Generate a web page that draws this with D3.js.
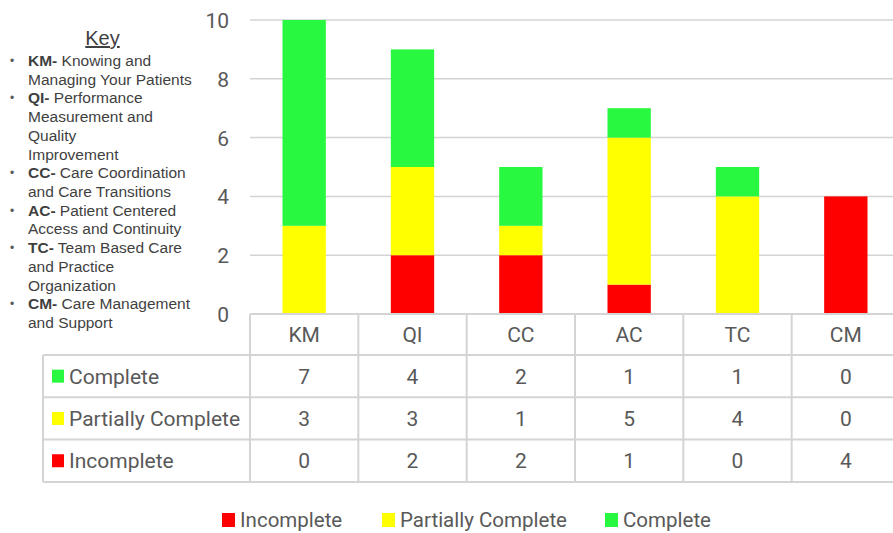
<!DOCTYPE html>
<html>
<head>
<meta charset="utf-8">
<script src="https://cdn.jsdelivr.net/npm/d3@7"></script>
<style>
  html, body { margin: 0; padding: 0; background: #fff; }
  svg { display: block; }
</style>
</head>
<body>
<svg id="chart" width="893" height="533"></svg>
<script>
// Domain codes along the x axis
const categories = ["KM", "QI", "CC", "AC", "TC", "CM"];
// Counts per status, one value per domain
const incomplete = [0, 2, 2, 1, 0, 4];
const partiallyComplete = [3, 3, 1, 5, 4, 0];
const complete = [7, 4, 2, 1, 1, 0];
const yTicks = [0, 2, 4, 6, 8, 10];

// Key entries: bold code and the description split into lines
const keyItems = [
  { code: "KM-", lines: ["Knowing and", "Managing Your Patients"] },
  { code: "QI-", lines: ["Performance", "Measurement and", "Quality", "Improvement"] },
  { code: "CC-", lines: ["Care Coordination", "and Care Transitions"] },
  { code: "AC-", lines: ["Patient Centered", "Access and Continuity"] },
  { code: "TC-", lines: ["Team Based Care", "and Practice", "Organization"] },
  { code: "CM-", lines: ["Care Management", "and Support"] }
];

const series = [
  { key: "Incomplete", values: incomplete, color: "#ff0000" },
  { key: "Partially Complete", values: partiallyComplete, color: "#ffff00" },
  { key: "Complete", values: complete, color: "#29f840" }
];

const svg = d3.select("#chart");
const textColor = "#595959";
const lineColor = "#d4d4d4";
const labelFont = "Roboto, 'Open Sans', sans-serif";

const plotLeft = 250, plotRight = 900, plotTop = 20, plotBottom = 314;

const x = d3.scaleBand().domain(categories).range([plotLeft, plotRight]).padding(0);
const y = d3.scaleLinear().domain([0, 10]).range([plotBottom, plotTop]);
const barW = x.bandwidth() * 0.4;

// Gridlines
svg.append("g").selectAll("line")
  .data(yTicks.filter(t => t > 0))
  .join("line")
  .attr("x1", plotLeft).attr("x2", plotRight)
  .attr("y1", d => y(d)).attr("y2", d => y(d))
  .attr("stroke", "#d3d3d3").attr("stroke-width", 1.5);

// Y axis labels
const yAxis = d3.axisLeft(y).tickValues(yTicks).tickSize(0).tickPadding(0).tickFormat(d3.format("d"));
const yG = svg.append("g").attr("transform", "translate(229,0)").call(yAxis);
yG.select(".domain").remove();
yG.selectAll("text")
  .attr("fill", textColor)
  .attr("font-family", labelFont)
  .attr("font-size", 21)
  .attr("dy", "0.36em");

// Stacked bars
const rows = categories.map((c, i) => {
  const r = { cat: c };
  series.forEach(s => { r[s.key] = s.values[i]; });
  return r;
});
const stack = d3.stack().keys(series.map(s => s.key));
const stacked = stack(rows);

svg.append("g").selectAll("g")
  .data(stacked)
  .join("g")
  .attr("fill", (d, i) => series[i].color)
  .selectAll("rect")
  .data(d => d)
  .join("rect")
  .attr("x", d => x(d.data.cat) + (x.bandwidth() - barW) / 2)
  .attr("width", barW)
  .attr("y", d => y(d[1]))
  .attr("height", d => y(d[0]) - y(d[1]));

// Data table below the plot
const tableLeft = 43;
const headerTop = plotBottom, headerBottom = 355;
const rowH = 42.3;
const tableSeries = [series[2], series[1], series[0]];
const tableBottom = headerBottom + rowH * tableSeries.length;
const tbl = svg.append("g");

// horizontal rules
tbl.append("line")
  .attr("x1", plotLeft).attr("x2", plotRight)
  .attr("y1", headerTop).attr("y2", headerTop)
  .attr("stroke", lineColor).attr("stroke-width", 2);
d3.range(tableSeries.length + 1).forEach(i => {
  const yy = headerBottom + i * rowH;
  tbl.append("line")
    .attr("x1", tableLeft).attr("x2", plotRight)
    .attr("y1", yy).attr("y2", yy)
    .attr("stroke", lineColor).attr("stroke-width", 2);
});
// vertical rules
tbl.append("line")
  .attr("x1", tableLeft).attr("x2", tableLeft)
  .attr("y1", headerBottom).attr("y2", tableBottom)
  .attr("stroke", lineColor).attr("stroke-width", 2);
categories.concat([null]).forEach((c, i) => {
  const xx = c ? x(c) : plotRight;
  tbl.append("line")
    .attr("x1", xx).attr("x2", xx)
    .attr("y1", headerTop).attr("y2", tableBottom)
    .attr("stroke", lineColor).attr("stroke-width", 2);
});

// header labels
tbl.append("g").selectAll("text")
  .data(categories)
  .join("text")
  .attr("x", d => x(d) + x.bandwidth() / 2)
  .attr("y", (headerTop + headerBottom) / 2 + 7.5)
  .attr("text-anchor", "middle")
  .attr("fill", textColor)
  .attr("font-family", labelFont)
  .attr("font-size", 21)
  .text(d => d);

// row labels and values
tableSeries.forEach((s, r) => {
  const cy = headerBottom + r * rowH + rowH / 2;
  tbl.append("rect")
    .attr("x", 52).attr("y", cy - 6.5)
    .attr("width", 12).attr("height", 13)
    .attr("fill", s.color);
  tbl.append("text")
    .attr("x", 69).attr("y", cy + 7.5)
    .attr("fill", textColor)
    .attr("font-family", labelFont)
    .attr("font-size", 21)
    .text(s.key);
  tbl.append("g").selectAll("text")
    .data(s.values)
    .join("text")
    .attr("x", (d, i) => x(categories[i]) + x.bandwidth() / 2)
    .attr("y", cy + 7.5)
    .attr("text-anchor", "middle")
    .attr("fill", textColor)
    .attr("font-family", labelFont)
    .attr("font-size", 21)
    .text(d => d);
});

// Bottom legend
const legendItems = [
  { s: series[0], x: 222 },
  { s: series[1], x: 382 },
  { s: series[2], x: 605 }
];
const lg = svg.append("g");
legendItems.forEach(it => {
  lg.append("rect")
    .attr("x", it.x).attr("y", 513)
    .attr("width", 13).attr("height", 14)
    .attr("fill", it.s.color);
  lg.append("text")
    .attr("x", it.x + 18).attr("y", 527)
    .attr("fill", textColor)
    .attr("font-family", labelFont)
    .attr("font-size", 20.5)
    .text(it.s.key);
});

// Key panel on the left
const keyFont = "'Liberation Sans', Arial, sans-serif";
const keyColor = "#3f3f3f";
const kg = svg.append("g");
kg.append("text")
  .attr("x", 102.5).attr("y", 45)
  .attr("text-anchor", "middle")
  .attr("fill", keyColor)
  .attr("font-family", keyFont)
  .attr("font-size", 20)
  .attr("text-decoration", "underline")
  .text("Key");

let lineIdx = 0;
const firstBaseline = 66, lineStep = 18.72;
keyItems.forEach(item => {
  item.lines.forEach((ln, j) => {
    const by = firstBaseline + lineIdx * lineStep;
    if (j === 0) {
      kg.append("text")
        .attr("x", 10).attr("y", by - 1)
        .attr("fill", "#595959")
        .attr("font-family", keyFont)
        .attr("font-size", 12)
        .text("•");
      const t = kg.append("text")
        .attr("x", 28).attr("y", by)
        .attr("fill", keyColor)
        .attr("font-family", keyFont)
        .attr("font-size", 15.5);
      t.append("tspan").attr("font-weight", "bold").text(item.code);
      t.append("tspan").text(" " + ln);
    } else {
      kg.append("text")
        .attr("x", 28).attr("y", by)
        .attr("fill", keyColor)
        .attr("font-family", keyFont)
        .attr("font-size", 15.5)
        .text(ln);
    }
    lineIdx++;
  });
});
</script>
</body>
</html>
